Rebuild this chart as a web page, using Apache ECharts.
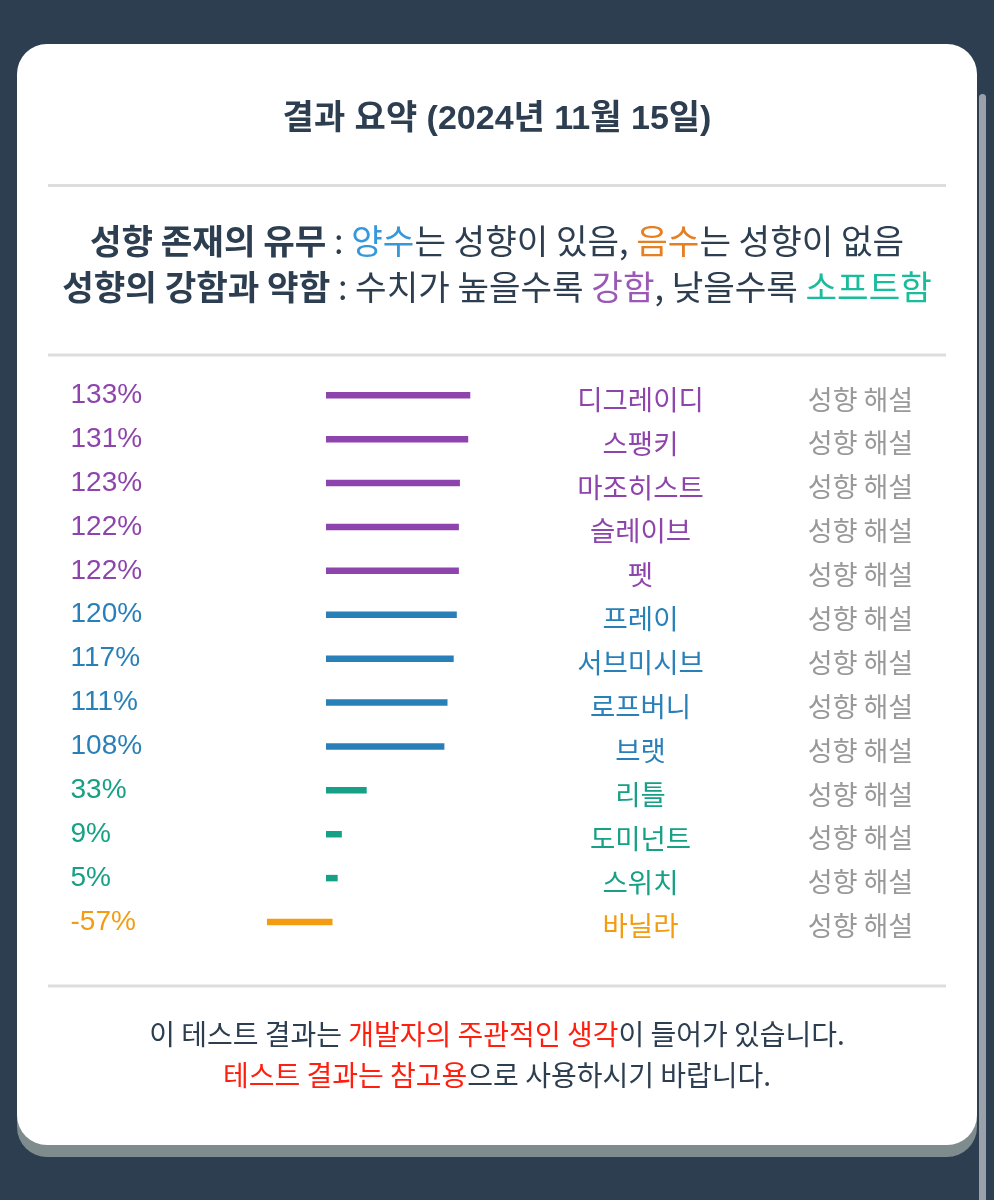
<!DOCTYPE html>
<html><head><meta charset="utf-8">
<script src="https://cdn.jsdelivr.net/npm/echarts@6/dist/echarts.min.js"></script>
<style>html,body{margin:0;padding:0;background:#2c3e50;overflow:hidden}#c{width:994px;height:1200px}</style>
</head><body><div id="c"></div>
<script>
// ---- data ----
const names = ['디그레이디','스팽키','마조히스트','슬레이브','펫','프레이','서브미시브','로프버니','브랫','리틀','도미넌트','스위치','바닐라'];
const values = [133,131,123,122,122,120,117,111,108,33,9,5,-57];
const tiers = ['strong','strong','strong','strong','strong','normal','normal','normal','normal','soft','soft','soft','none'];
const commentLabel = '성향 해설';
const titleText = '결과 요약 (2024년 11월 15일)';

const tierColors = {strong:'#8e44ad', normal:'#2980b9', soft:'#16a085', none:'#f39c12'};
const colorOf = i => tierColors[tiers[i]];
const DARK = '#2c3e50';
const KR = '"Noto Sans CJK KR", sans-serif';

const gridLeft = 225.65, gridWidth = 310.8, gridTop = 373.35, gridHeight = 570.6;

const chart = echarts.init(document.getElementById('c'), null, {renderer:'canvas'});

const SUB = 34.3, FOOT = 28;

const option = {
  backgroundColor: '#2c3e50',
  animation: false,
  grid: {left: gridLeft, top: gridTop, width: gridWidth, height: gridHeight, containLabel:false},
  xAxis: {type:'value', min:-100, max:200, show:false},
  yAxis: [
    {type:'category', data:names, inverse:true, position:'left', offset: gridLeft - 70.5,
     axisLine:{show:false}, axisTick:{show:false}, splitLine:{show:false},
     axisLabel:{margin:0, align:'left', verticalAlign:'middle', fontSize:28, fontFamily:'"Liberation Sans", Arial, sans-serif',
       formatter:(v)=> values[names.indexOf(v)] + '%', color:(v)=> colorOf(names.indexOf(v))}},
    {type:'category', data:names, inverse:true, position:'right', offset: 640.5 - (gridLeft+gridWidth),
     axisLine:{show:false}, axisTick:{show:false}, splitLine:{show:false},
     axisLabel:{margin:0, align:'center', verticalAlign:'middle', fontSize:27.5, fontFamily:KR,
       formatter:(v)=> '{a|' + v + '}',
       rich:{a:{fontSize:27.5, fontFamily:KR, padding:[8,0,0,0]}},
       color:(v)=> colorOf(names.indexOf(v))}},
    {type:'category', data:names, inverse:true, position:'right', offset: 860.5 - (gridLeft+gridWidth),
     axisLine:{show:false}, axisTick:{show:false}, splitLine:{show:false},
     axisLabel:{margin:0, align:'center', verticalAlign:'middle', fontSize:27, fontFamily:KR,
       formatter:()=> '{a|' + commentLabel + '}',
       rich:{a:{fontSize:27, fontFamily:KR, color:'#999999', padding:[8,0,0,0]}},
       color:'#999999'}}
  ],
  series: [{
    type:'custom',
    yAxisIndex:0,
    data: values.map((v,i)=>[v,i]),
    encode:{x:0, y:1},
    renderItem: function(params, api){
      const v = api.value(0), c = api.value(1);
      const p0 = api.coord([0, c]), p1 = api.coord([v, c]);
      const cap = 3.25, h = 6.5;
      const x0 = Math.min(p0[0], p1[0]) - cap, x1 = Math.max(p0[0], p1[0]) + cap;
      return {type:'rect', shape:{x:x0, y:p0[1]-h/2, width:x1-x0, height:h},
              style:{fill: colorOf(params.dataIndex)}};
    }
  }],
  graphic: [
    {type:'rect', z:-20, silent:true, shape:{x:17, y:56, width:960, height:1101, r:30}, style:{fill:'#7f8c8d'}},
    {type:'rect', z:-19, silent:true, shape:{x:17, y:44, width:960, height:1101, r:30}, style:{fill:'#ffffff'}},
    {type:'rect', z:-18, silent:true, shape:{x:979, y:94, width:7, height:1200, r:3.5}, style:{fill:'#9aa1aa'}},
    {type:'line', z:-5, silent:true, shape:{x1:48, y1:185.5, x2:946, y2:185.5}, style:{stroke:'#dddddd', lineWidth:3}},
    {type:'line', z:-5, silent:true, shape:{x1:48, y1:355, x2:946, y2:355}, style:{stroke:'#dddddd', lineWidth:3}},
    {type:'line', z:-5, silent:true, shape:{x1:48, y1:986, x2:946, y2:986}, style:{stroke:'#dddddd', lineWidth:3}},
    {type:'text', z:10, silent:true, x:497, y:120,
     style:{text:titleText, font:'bold 34px "Liberation Sans", "Noto Sans CJK KR", sans-serif', fill:DARK,
            align:'center', verticalAlign:'middle', textAlign:'center', textVerticalAlign:'middle'}},
    {type:'text', z:10, silent:true, x:497, y:241,
     style:{text:'{b|성향 존재의 유무}{n| : }{blue|양수}{n|는 성향이 있음, }{org|음수}{n|는 성향이 없음}',
            align:'center', verticalAlign:'middle', textAlign:'center', textVerticalAlign:'middle',
            rich:{
              b:{font:'bold '+SUB+'px '+KR, fill:DARK, color:DARK},
              n:{font:SUB+'px '+KR, fill:DARK, color:DARK},
              blue:{font:SUB+'px '+KR, fill:'#3498db', color:'#3498db'},
              org:{font:SUB+'px '+KR, fill:'#e67e22', color:'#e67e22'}
            }}},
    {type:'text', z:10, silent:true, x:497, y:287,
     style:{text:'{b|성향의 강함과 약함}{n| : 수치가 높을수록 }{pur|강함}{n|, 낮을수록 }{teal|소프트함}',
            align:'center', verticalAlign:'middle', textAlign:'center', textVerticalAlign:'middle',
            rich:{
              b:{font:'bold '+SUB+'px '+KR, fill:DARK, color:DARK},
              n:{font:SUB+'px '+KR, fill:DARK, color:DARK},
              pur:{font:SUB+'px '+KR, fill:'#9b59b6', color:'#9b59b6'},
              teal:{font:SUB+'px '+KR, fill:'#1abc9c', color:'#1abc9c'}
            }}},
    {type:'text', z:10, silent:true, x:497, y:1034,
     style:{text:'{n|이 테스트 결과는 }{r|개발자의 주관적인 생각}{n|이 들어가 있습니다.}',
            align:'center', verticalAlign:'middle', textAlign:'center', textVerticalAlign:'middle',
            rich:{
              n:{font:FOOT+'px '+KR, fill:DARK, color:DARK},
              r:{font:FOOT+'px '+KR, fill:'#ff1f0f', color:'#ff1f0f'}
            }}},
    {type:'text', z:10, silent:true, x:497, y:1075,
     style:{text:'{r|테스트 결과는 참고용}{n|으로 사용하시기 바랍니다.}',
            align:'center', verticalAlign:'middle', textAlign:'center', textVerticalAlign:'middle',
            rich:{
              n:{font:FOOT+'px '+KR, fill:DARK, color:DARK},
              r:{font:FOOT+'px '+KR, fill:'#ff1f0f', color:'#ff1f0f'}
            }}}
  ]
};
chart.setOption(option);
</script></body></html>
